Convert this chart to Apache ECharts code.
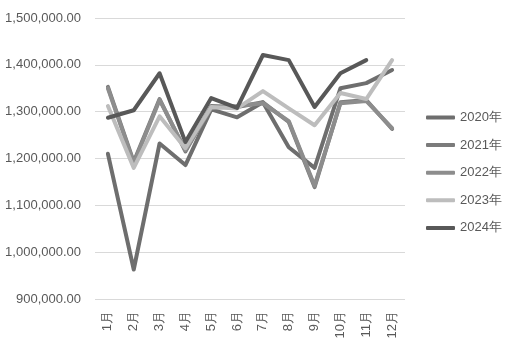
<!DOCTYPE html>
<html>
<head>
<meta charset="utf-8">
<script src="https://cdn.jsdelivr.net/npm/echarts@6/dist/echarts.min.js"></script>
<style>html,body{margin:0;padding:0;background:#fff}#c{width:512px;height:350px}</style>
</head>
<body>
<div id="c"></div>
<script>
var categories = ['1月','2月','3月','4月','5月','6月','7月','8月','9月','10月','11月','12月'];
var seriesNames = ['2020年','2021年','2022年','2023年','2024年'];
var s2020 = [1210000, 963000, 1232000, 1186000, 1305000, 1288000, 1320000, 1224000, 1180000, 1350000, 1361000, 1389000];
var s2021 = [1353000, 1193000, 1327000, 1215000, 1312000, 1310000, 1320000, 1278000, 1139000, 1320000, 1325000, 1263000];
var s2022 = [1350000, 1190000, 1325000, 1218000, 1308000, 1312000, 1318000, 1280000, 1142000, 1318000, 1323000, 1265000];
var s2023 = [1312000, 1180000, 1290000, 1222000, 1310000, 1307000, 1344000, 1307000, 1271000, 1340000, 1327000, 1410000];
var s2024 = [1287000, 1303000, 1382000, 1235000, 1329000, 1308000, 1421000, 1410000, 1310000, 1382000, 1410000, null];
var yTicks = {min: 900000, max: 1500000, interval: 100000};
var colors = ['#6e6e6e', '#7b7b7b', '#8d8d8d', '#bdbdbd', '#585858'];

function fmt(v) {
  var s = String(Math.round(v));
  s = s.replace(/\B(?=(\d{3})+(?!\d))/g, ',');
  return s + '.00';
}
var data = [s2020, s2021, s2022, s2023, s2024];
var chart = echarts.init(document.getElementById('c'), null, {renderer: 'canvas'});
chart.setOption({
  animation: false,
  color: colors,
  textStyle: {fontFamily: 'Liberation Sans'},
  grid: {left: 95, right: 107, top: 18, bottom: 51, containLabel: false},
  legend: {
    orient: 'vertical', left: 426, top: 111, padding: 0,
    itemWidth: 29, itemHeight: 4, itemGap: 14.6,
    icon: 'roundRect',
    textStyle: {color: '#595959', fontSize: 13, fontFamily: 'Liberation Sans'},
    data: seriesNames
  },
  xAxis: {
    type: 'category', data: categories, boundaryGap: true,
    axisLine: {show: false}, axisTick: {show: false},
    axisLabel: {rotate: 90, color: '#595959', fontSize: 13, margin: 12, fontFamily: 'Liberation Sans'}
  },
  yAxis: {
    type: 'value', min: yTicks.min, max: yTicks.max, interval: yTicks.interval,
    axisLine: {show: false}, axisTick: {show: false},
    axisLabel: {color: '#595959', fontSize: 13, margin: 14, formatter: fmt, fontFamily: 'Liberation Sans'},
    splitLine: {lineStyle: {color: '#d9d9d9', width: 1}}
  },
  series: seriesNames.map(function (n, i) {
    return {
      name: n, type: 'line', data: data[i], symbol: 'none', showSymbol: false,
      connectNulls: false,
      lineStyle: {width: 4, color: colors[i], cap: 'round', join: 'round'},
      itemStyle: {color: colors[i]}
    };
  })
});
</script>
</body>
</html>
